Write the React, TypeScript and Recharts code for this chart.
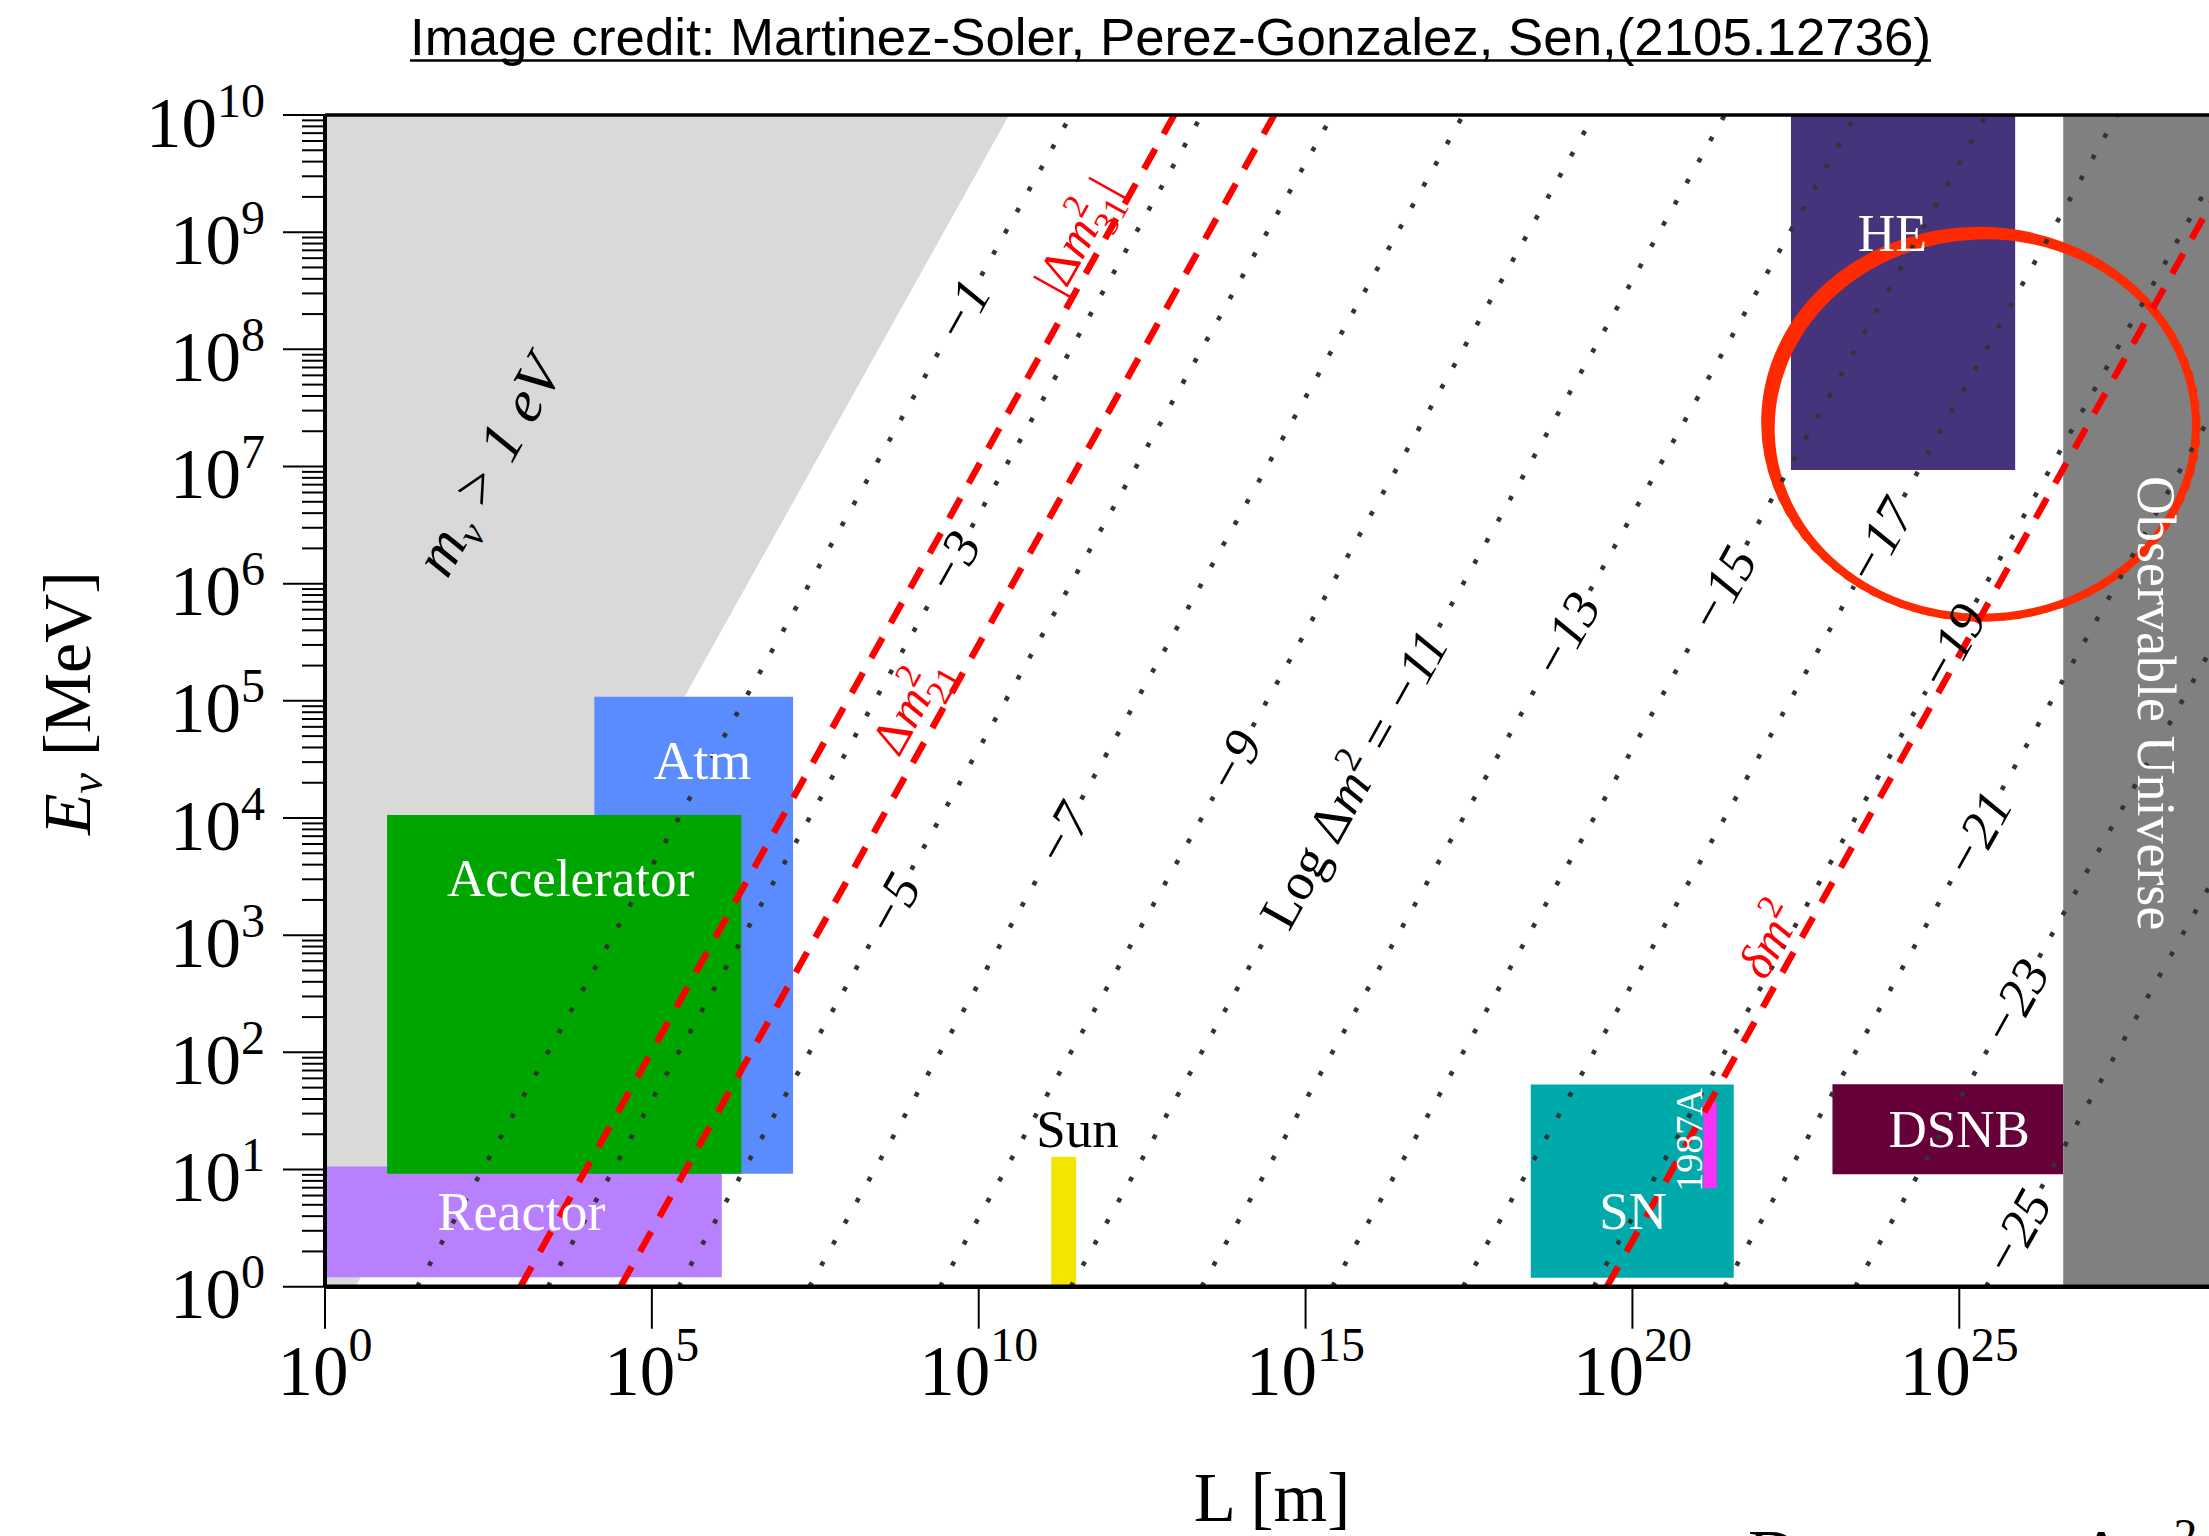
import React from 'react';
import { ComposedChart, XAxis, YAxis, ReferenceArea, ReferenceLine, ReferenceDot } from 'recharts';

// ---------- layout ----------
const CHART_W = 2209;
const CHART_H = 1536;
const MARGIN = { top: 115, right: 0, bottom: 0, left: 0 };
const Y_AXIS_W = 325;
const X_AXIS_H = 249.3;
const PLOT_W = CHART_W - Y_AXIS_W;
const PLOT_H = CHART_H - MARGIN.top - X_AXIS_H;

const SERIF = '"Liberation Serif", "Times New Roman", Times, serif';
const SANS = '"Liberation Sans", Arial, Helvetica, sans-serif';

const p10 = (v: number) => Math.pow(10, v);

// ---------- axes ----------
const LOG_L_MIN = 0;
const LOG_L_MAX = 28.82;
const LOG_E_MIN = 0;
const LOG_E_MAX = 10;
const X_TICK_EXP = [0, 5, 10, 15, 20, 25];
const Y_TICK_EXP = [0, 1, 2, 3, 4, 5, 6, 7, 8, 9, 10];
const Y_MINOR_MANT = [2, 3, 4, 5, 6, 7, 8, 9];

const X_TICKS = X_TICK_EXP.map(p10);
const Y_TICKS = [
  ...Y_TICK_EXP.map(p10),
  ...Y_TICK_EXP.slice(0, -1).flatMap((e) => Y_MINOR_MANT.map((m) => m * p10(e))),
].sort((a, b) => a - b);

// ---------- physics lines ----------
// oscillation length: log10 L[m] = log10 E[MeV] - log10 Δm²[eV²] + OSC_LOG_OFFSET
const OSC_LOG_OFFSET = 0.41;

// dotted iso-Δm² lines
const ISO_LOG_DM2 = [-1, -3, -5, -7, -9, -11, -13, -15, -17, -19, -21, -23, -25];
const ISO_LABEL_LOG_E = [8.33, 6.18, 3.26, 3.86, 4.48, 4.33, 5.56, 5.95, 6.36, 5.46, 3.86, 2.43, 0.46];
const ISO_LABEL_HALF_GAP = [0.3, 0.3, 0.3, 0.3, 0.3, 1.3, 0.38, 0.38, 0.38, 0.38, 0.38, 0.38, 0.38];
const ISO_PREFIX_AT = -11;

// red dashed lines: |Δm²31|, Δm²21, δm²
const OSC_NAMES = ['31', '21', 'delta'];
const OSC_LOG_DM2 = [-2.58, -4.11, -19.2];
const OSC_LABEL_LOG_L = [11.5, 8.95, 22.09];
const OSC_LABEL_LOG_E = [8.97, 4.98, 2.96];

// m_ν > 1 eV region: L/E boundary offset (log10 m/MeV)
const MASS_LOG_OFFSET = 0.465;
const MASS_LABEL = [2.49, 7.01];

// ---------- experiment regions ----------
const REGION_NAMES = ['Reactor', 'Atm', 'Accelerator', 'Sun', 'SN', '1987A', 'DSNB', 'HE', 'Observable Universe'];
const REGION_LOG_L = [
  [0, 6.07], [4.12, 7.16], [0.95, 6.37], [11.11, 11.49], [18.445, 21.55],
  [21.085, 21.29], [23.06, 26.59], [22.425, 25.855], [26.59, LOG_L_MAX],
];
const REGION_LOG_E = [
  [0.08, 1.026], [0.965, 5.035], [0.965, 4.026], [0, 1.11], [0.077, 1.725],
  [0.84, 1.579], [0.959, 1.727], [6.97, 10], [0, 10],
];
const REGION_LABEL_LOG_L = [3.005, 5.774, 3.755, 11.51, 20.01, 20.87, 25.0, 23.976, 28.013];
const REGION_LABEL_LOG_E = [0.638, 4.494, 3.487, 1.347, 0.646, 1.251, 1.346, 8.992, 4.98];

// highlight ellipse (log units)
const HIGHLIGHT_CENTER = [25.34, 7.35];
const HIGHLIGHT_RADII = [3.28, 1.64];

// ---------- styles ----------
const REGION_COLORS = ['#b880fe', '#5b8cff', '#00a600', '#f2e600', '#00aaaa', '#f633f6', '#660039', '#45337c', '#808080'];
const REGION_LABEL_SIZE = [54, 55, 53, 53, 53, 38, 53, 52, 54];
const REGION_LABEL_FILL = ['#fff', '#fff', '#fff', '#000', '#fff', '#fff', '#fff', '#fff', '#fff'];
const REGION_LABEL_ANGLE = [0, 0, 0, 0, 0, -90, 0, 0, 90];

const LINE_ANGLE =
  (-Math.atan((PLOT_H / (LOG_E_MAX - LOG_E_MIN)) / (PLOT_W / (LOG_L_MAX - LOG_L_MIN))) * 180) / Math.PI;

const isoL = (logE: number, k: number) => p10(logE - k + OSC_LOG_OFFSET);

// ---------- ticks ----------
const XTick = (props: any) => {
  const { x, y, payload } = props;
  const e = Math.round(Math.log10(payload.value));
  return (
    <g>
      <line x1={x} x2={x} y1={y} y2={y + 42} stroke="#000" strokeWidth={2} />
      <text x={x} y={y + 108.3} textAnchor="middle" fontFamily={SERIF} fontSize={71} fill="#000">
        10
        <tspan fontSize={48} dy={-34}>
          {e}
        </tspan>
      </text>
    </g>
  );
};

const YTick = (props: any) => {
  const { x, y, payload } = props;
  const lg = Math.log10(payload.value);
  const major = Math.abs(lg - Math.round(lg)) < 1e-6;
  return (
    <g>
      <line x1={x - (major ? 42 : 23)} x2={x} y1={y} y2={y} stroke="#000" strokeWidth={2} />
      {major && (
        <text x={x - 60} y={y + 31.5} textAnchor="end" fontFamily={SERIF} fontSize={71} fill="#000">
          10
          <tspan fontSize={48} dy={-30}>
            {Math.round(lg)}
          </tspan>
        </text>
      )}
    </g>
  );
};

// ---------- shapes ----------
const MassShape = (p: any) => {
  const { x, y, width, height } = p;
  const f = MASS_LOG_OFFSET / (LOG_E_MAX + MASS_LOG_OFFSET);
  return (
    <polygon
      points={`${x},${y} ${x + width},${y} ${x + width * f},${y + height} ${x},${y + height}`}
      fill="#d9d9d9"
      stroke="none"
    />
  );
};

const HighlightShape = (p: any) => {
  const { x, y, width, height } = p;
  const cx = x + width / 2;
  const cy = y + height / 2;
  const rx = width / 2;
  const ry = height / 2;
  return (
    <g fill="none" stroke="#ff2a00" strokeLinecap="round">
      <ellipse cx={cx} cy={cy} rx={rx} ry={ry} strokeWidth={8} />
      <ellipse cx={cx + 2} cy={cy + 1.5} rx={rx - 3} ry={ry - 2} strokeWidth={5} transform={`rotate(-2 ${cx} ${cy})`} />
      <ellipse cx={cx - 1.5} cy={cy - 2} rx={rx + 2.5} ry={ry + 2.5} strokeWidth={4} transform={`rotate(1.5 ${cx} ${cy})`} />
      <ellipse cx={cx} cy={cy} rx={rx + 4} ry={ry + 3} strokeWidth={1.5} strokeDasharray="6 9" />
    </g>
  );
};

function textShape(content: React.ReactNode, fs: number, angle: number, fill: string, italic: boolean) {
  return (props: any) => {
    const { cx, cy } = props;
    return (
      <text
        x={cx}
        y={cy + fs * 0.34}
        textAnchor="middle"
        fontFamily={SERIF}
        fontSize={fs}
        fill={fill}
        fontStyle={italic ? 'italic' : 'normal'}
        transform={angle ? `rotate(${angle} ${cx} ${cy})` : undefined}
      >
        {content}
      </text>
    );
  };
}

function dm2Content(name: string, fs: number) {
  const s = fs * 0.7;
  const up = fs * 0.42;
  const down = fs * 0.3;
  if (name === 'delta') {
    return (
      <>
        <tspan fontStyle="italic">δm</tspan>
        <tspan fontSize={s} fontStyle="normal" dy={-up}>2</tspan>
      </>
    );
  }
  const abs = name === '31';
  return (
    <>
      <tspan fontStyle="normal">{abs ? '|Δ' : 'Δ'}</tspan>
      <tspan fontStyle="italic">m</tspan>
      <tspan fontSize={s} fontStyle="normal" dy={-up}>2</tspan>
      <tspan fontSize={s} fontStyle="normal" dx={-s * 0.5} dy={up + down}>{name}</tspan>
      <tspan fontStyle="normal" dy={-down}>{abs ? '|' : '\u200a'}</tspan>
    </>
  );
}

function isoContent(k: number, fs: number) {
  const num = `\u2212${-k}`;
  if (k === ISO_PREFIX_AT) {
    const s = fs * 0.7;
    return (
      <>
        <tspan fontStyle="normal">Log Δ</tspan>
        <tspan fontStyle="italic">m</tspan>
        <tspan fontStyle="normal" fontSize={s} dy={-fs * 0.4}>2</tspan>
        <tspan fontStyle="normal" dy={fs * 0.4}>{' = '}</tspan>
        <tspan fontStyle="italic">{num}</tspan>
      </>
    );
  }
  return <tspan fontStyle="italic">{num}</tspan>;
}

export default function App() {
  const isoSegments: React.ReactNode[] = [];
  ISO_LOG_DM2.forEach((k, i) => {
    const c = ISO_LABEL_LOG_E[i];
    const g = ISO_LABEL_HALF_GAP[i];
    const parts = [
      [LOG_E_MIN, c - g],
      [c + g, LOG_E_MAX],
    ];
    parts.forEach(([a, b], j) => {
      if (b <= a) return;
      isoSegments.push(
        <ReferenceLine
          key={`iso-${k}-${j}`}
          segment={[
            { x: isoL(a, k), y: p10(a) },
            { x: isoL(b, k), y: p10(b) },
          ]}
          stroke="#333333"
          strokeWidth={4.6}
          strokeDasharray="4.6 19.6"
          ifOverflow="hidden"
        />
      );
    });
  });

  return (
    <div style={{ position: 'absolute', left: 0, top: 0, width: CHART_W, height: CHART_H, background: '#fff' }}>
      <ComposedChart width={CHART_W} height={CHART_H} margin={MARGIN} data={[]}>
        <XAxis
          type="number"
          dataKey="L"
          scale="log"
          domain={[p10(LOG_L_MIN), p10(LOG_L_MAX)]}
          ticks={X_TICKS}
          interval={0}
          tick={<XTick />}
          tickLine={false}
          tickSize={0}
          tickMargin={0}
          height={X_AXIS_H}
          axisLine={{ stroke: '#000', strokeWidth: 4.5 }}
          allowDataOverflow
        />
        <YAxis
          type="number"
          scale="log"
          domain={[p10(LOG_E_MIN), p10(LOG_E_MAX)]}
          ticks={Y_TICKS}
          interval={0}
          tick={<YTick />}
          tickLine={false}
          tickSize={0}
          tickMargin={0}
          width={Y_AXIS_W}
          axisLine={{ stroke: '#000', strokeWidth: 4 }}
          allowDataOverflow
        />

        <ReferenceArea
          x1={p10(LOG_L_MIN)}
          x2={p10(LOG_E_MAX + MASS_LOG_OFFSET)}
          y1={p10(LOG_E_MIN)}
          y2={p10(LOG_E_MAX)}
          shape={MassShape}
          ifOverflow="hidden"
        />

        {REGION_NAMES.map((n, i) => (
          <ReferenceArea
            key={`reg-${n}`}
            x1={p10(REGION_LOG_L[i][0])}
            x2={p10(REGION_LOG_L[i][1])}
            y1={p10(REGION_LOG_E[i][0])}
            y2={p10(REGION_LOG_E[i][1])}
            fill={REGION_COLORS[i]}
            fillOpacity={1}
            stroke="none"
            ifOverflow="hidden"
          />
        ))}

        {isoSegments}

        {OSC_NAMES.map((n, i) => (
          <ReferenceLine
            key={`osc-${n}`}
            segment={[
              { x: isoL(LOG_E_MIN, OSC_LOG_DM2[i]), y: p10(LOG_E_MIN) },
              { x: isoL(LOG_E_MAX, OSC_LOG_DM2[i]), y: p10(LOG_E_MAX) },
            ]}
            stroke="#ff0000"
            strokeWidth={6.5}
            strokeDasharray="23 17"
            ifOverflow="hidden"
          />
        ))}

        <ReferenceLine y={p10(LOG_E_MAX)} stroke="#000" strokeWidth={3.5} />

        {ISO_LOG_DM2.map((k, i) => (
          <ReferenceDot
            key={`isol-${k}`}
            x={isoL(ISO_LABEL_LOG_E[i], k)}
            y={p10(ISO_LABEL_LOG_E[i])}
            r={0}
            shape={textShape(isoContent(k, 53), 53, LINE_ANGLE, '#000', true)}
          />
        ))}

        {OSC_NAMES.map((n, i) => (
          <ReferenceDot
            key={`oscl-${n}`}
            x={p10(OSC_LABEL_LOG_L[i])}
            y={p10(OSC_LABEL_LOG_E[i])}
            r={0}
            shape={textShape(dm2Content(n, 50), 50, LINE_ANGLE, '#ff0000', false)}
          />
        ))}

        <ReferenceDot
          x={p10(MASS_LABEL[0])}
          y={p10(MASS_LABEL[1])}
          r={0}
          shape={textShape(
            <>
              <tspan>m</tspan>
              <tspan fontSize={40} dy={12}>ν</tspan>
              <tspan dy={-12}>{' > 1 eV'}</tspan>
            </>,
            60,
            LINE_ANGLE,
            '#000',
            true
          )}
        />

        {REGION_NAMES.map((n, i) => (
          <ReferenceDot
            key={`regl-${n}`}
            x={p10(REGION_LABEL_LOG_L[i])}
            y={p10(REGION_LABEL_LOG_E[i])}
            r={0}
            shape={textShape(n, REGION_LABEL_SIZE[i], REGION_LABEL_ANGLE[i], REGION_LABEL_FILL[i], false)}
          />
        ))}

        <ReferenceArea
          x1={p10(HIGHLIGHT_CENTER[0] - HIGHLIGHT_RADII[0])}
          x2={p10(HIGHLIGHT_CENTER[0] + HIGHLIGHT_RADII[0])}
          y1={p10(HIGHLIGHT_CENTER[1] - HIGHLIGHT_RADII[1])}
          y2={p10(HIGHLIGHT_CENTER[1] + HIGHLIGHT_RADII[1])}
          shape={HighlightShape}
          ifOverflow="visible"
        />
      </ComposedChart>

      <svg
        width={CHART_W}
        height={CHART_H}
        style={{ position: 'absolute', left: 0, top: 0, pointerEvents: 'none' }}
      >
        <text x={410} y={55} fontFamily={SANS} fontSize={52.5} fill="#000" textLength={1521} lengthAdjust="spacingAndGlyphs">
          Image credit: Martinez-Soler, Perez-Gonzalez, Sen,(2105.12736)
        </text>
        <line x1={410} x2={1931} y1={60.5} y2={60.5} stroke="#000" strokeWidth={2.5} />
        <text
          x={90}
          y={703}
          transform="rotate(-90 90 703)"
          textAnchor="middle"
          fontFamily={SERIF}
          fontSize={68}
          fill="#000"
        >
          <tspan fontStyle="italic">E</tspan>
          <tspan fontStyle="italic" fontSize={46} dy={12}>ν</tspan>
          <tspan dy={-12}>{' [MeV]'}</tspan>
        </text>
        <text x={1272} y={1521} textAnchor="middle" fontFamily={SERIF} fontSize={69} fill="#000">
          L [m]
        </text>
        <text x={1748} y={1578} fontFamily={SERIF} fontSize={69} fill="#000">
          Degenerate Δ<tspan fontStyle="italic">m</tspan>
          <tspan fontSize={48} dy={-26}>2</tspan>
        </text>
      </svg>
    </div>
  );
}
